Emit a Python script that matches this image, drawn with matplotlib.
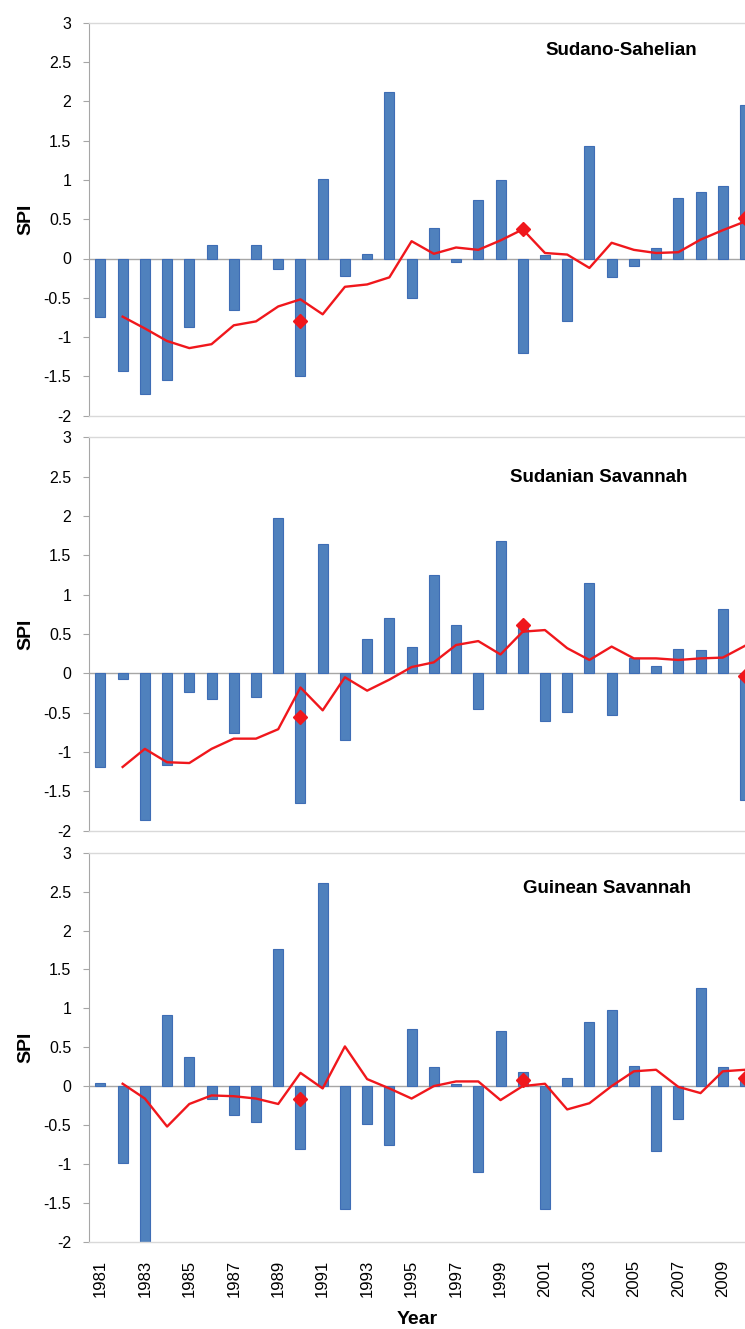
import numpy as np
import matplotlib
matplotlib.use("Agg")
import matplotlib.pyplot as plt

plt.rcParams['font.family'] = ['Liberation Sans', 'DejaVu Sans']

years = list(range(1981, 2011))

# SPI per year
sudano_sahelian = [-0.75, -1.43, -1.73, -1.55, -0.87, 0.17, -0.66, 0.17, -0.13, -1.50,
                   1.01, -0.22, 0.06, 2.12, -0.50, 0.39, -0.04, 0.74, 1.00, -1.20,
                   0.05, -0.79, 1.43, -0.24, -0.09, 0.13, 0.77, 0.84, 0.92, 1.95]
sudanian_savannah = [-1.19, -0.07, -1.87, -1.17, -0.24, -0.33, -0.76, -0.30, 1.97, -1.65,
                     1.65, -0.85, 0.44, 0.70, 0.34, 1.25, 0.62, -0.45, 1.68, 0.58,
                     -0.60, -0.49, 1.15, -0.53, 0.19, 0.09, 0.31, 0.30, 0.82, -1.61]
guinean_savannah = [0.04, -0.99, -2.00, 0.92, 0.38, -0.16, -0.37, -0.46, 1.76, -0.81,
                    2.61, -1.58, -0.49, -0.76, 0.73, 0.24, 0.03, -1.11, 0.71, 0.18,
                    -1.58, 0.11, 0.83, 0.98, 0.26, -0.83, -0.42, 1.26, 0.24, 0.12]

# moving average line (starts 1982)
ma_years = list(range(1982, 2011))
ma_sudano_sahelian = [-0.74, -0.89, -1.05, -1.14, -1.09, -0.85, -0.80, -0.61, -0.52, -0.71,
                      -0.36, -0.33, -0.24, 0.22, 0.06, 0.14, 0.11, 0.23, 0.37, 0.07,
                      0.05, -0.12, 0.20, 0.11, 0.07, 0.08, 0.24, 0.36, 0.47]
ma_sudanian_savannah = [-1.19, -0.96, -1.13, -1.14, -0.96, -0.83, -0.83, -0.71, -0.18, -0.47,
                        -0.05, -0.22, -0.08, 0.08, 0.14, 0.36, 0.41, 0.24, 0.53, 0.55,
                        0.32, 0.17, 0.34, 0.19, 0.19, 0.17, 0.19, 0.20, 0.35]
ma_guinean_savannah = [0.03, -0.16, -0.52, -0.23, -0.12, -0.13, -0.16, -0.23, 0.17, -0.03,
                       0.51, 0.09, -0.03, -0.16, 0.00, 0.06, 0.06, -0.18, 0.00, 0.03,
                       -0.30, -0.22, 0.00, 0.19, 0.21, -0.01, -0.09, 0.19, 0.21]

# decadal means (diamonds)
dec_years = [1990, 2000, 2010]
dec_sudano_sahelian = [-0.80, 0.37, 0.52]
dec_sudanian_savannah = [-0.55, 0.62, -0.03]
dec_guinean_savannah = [-0.17, 0.08, 0.10]

titles = ['Sudano-Sahelian', 'Sudanian Savannah', 'Guinean Savannah']
title_pos = [(0.812, 0.928), (0.777, 0.899), (0.789, 0.909)]
bars = [sudano_sahelian, sudanian_savannah, guinean_savannah]
lines = [ma_sudano_sahelian, ma_sudanian_savannah, ma_guinean_savannah]
decs = [dec_sudano_sahelian, dec_sudanian_savannah, dec_guinean_savannah]

W, H = 745, 1329
fig = plt.figure(figsize=(W / 100, H / 100), dpi=100)

# axes boxes in pixels (top, bottom)
boxes = [(22.7, 415.7), (437.3, 830.7), (852.7, 1241.7)]
left = 89.3

bar_blue = '#4F81BD'
edge_blue = '#3E6DB5'
red = '#F0171C'
grid_gray = '#D9D9D9'
axis_gray = '#A6A6A6'

for i in range(3):
    top, bot = boxes[i]
    ax = fig.add_axes([left / W, 1 - bot / H, 1 - left / W, (bot - top) / H])
    ax.axhline(0, color=axis_gray, lw=1.0, zorder=1)
    ax.bar(years, bars[i], width=0.45, color=bar_blue, edgecolor=edge_blue,
           linewidth=0.8, zorder=2)
    ax.plot(ma_years, lines[i], color=red, lw=1.7, zorder=3)
    ax.plot(dec_years, decs[i], linestyle='none', marker='D', markersize=7.5,
            color=red, zorder=4, clip_on=False)

    ax.set_xlim(1980.5, 2010.0)
    ax.set_ylim(-2, 3)
    ax.set_yticks(np.arange(-2, 3.01, 0.5))
    ax.set_yticklabels(['%g' % v for v in np.arange(-2, 3.01, 0.5)])
    ax.tick_params(axis='y', length=4, width=0.8, color=axis_gray, pad=9,
                   labelsize=11.5)
    ax.set_ylabel('SPI', fontsize=14, fontweight='bold', labelpad=7)

    for s in ['top', 'bottom']:
        ax.spines[s].set_color(grid_gray)
        ax.spines[s].set_linewidth(1.0)
    ax.spines['right'].set_visible(False)
    ax.spines['left'].set_color(axis_gray)
    ax.spines['left'].set_linewidth(0.8)

    ax.text(title_pos[i][0], title_pos[i][1], titles[i], transform=ax.transAxes,
            ha='center', va='center', fontsize=13.5, fontweight='bold')

    if i < 2:
        ax.set_xticks([])
    else:
        ax.set_xticks(years[::2])
        ax.set_xticklabels([str(y) for y in years[::2]], rotation=90, fontsize=12)
        ax.tick_params(axis='x', length=0, pad=13)
        ax.set_xlabel('Year', fontsize=14, fontweight='bold', labelpad=10)

fig.savefig('out.png', dpi=100)
